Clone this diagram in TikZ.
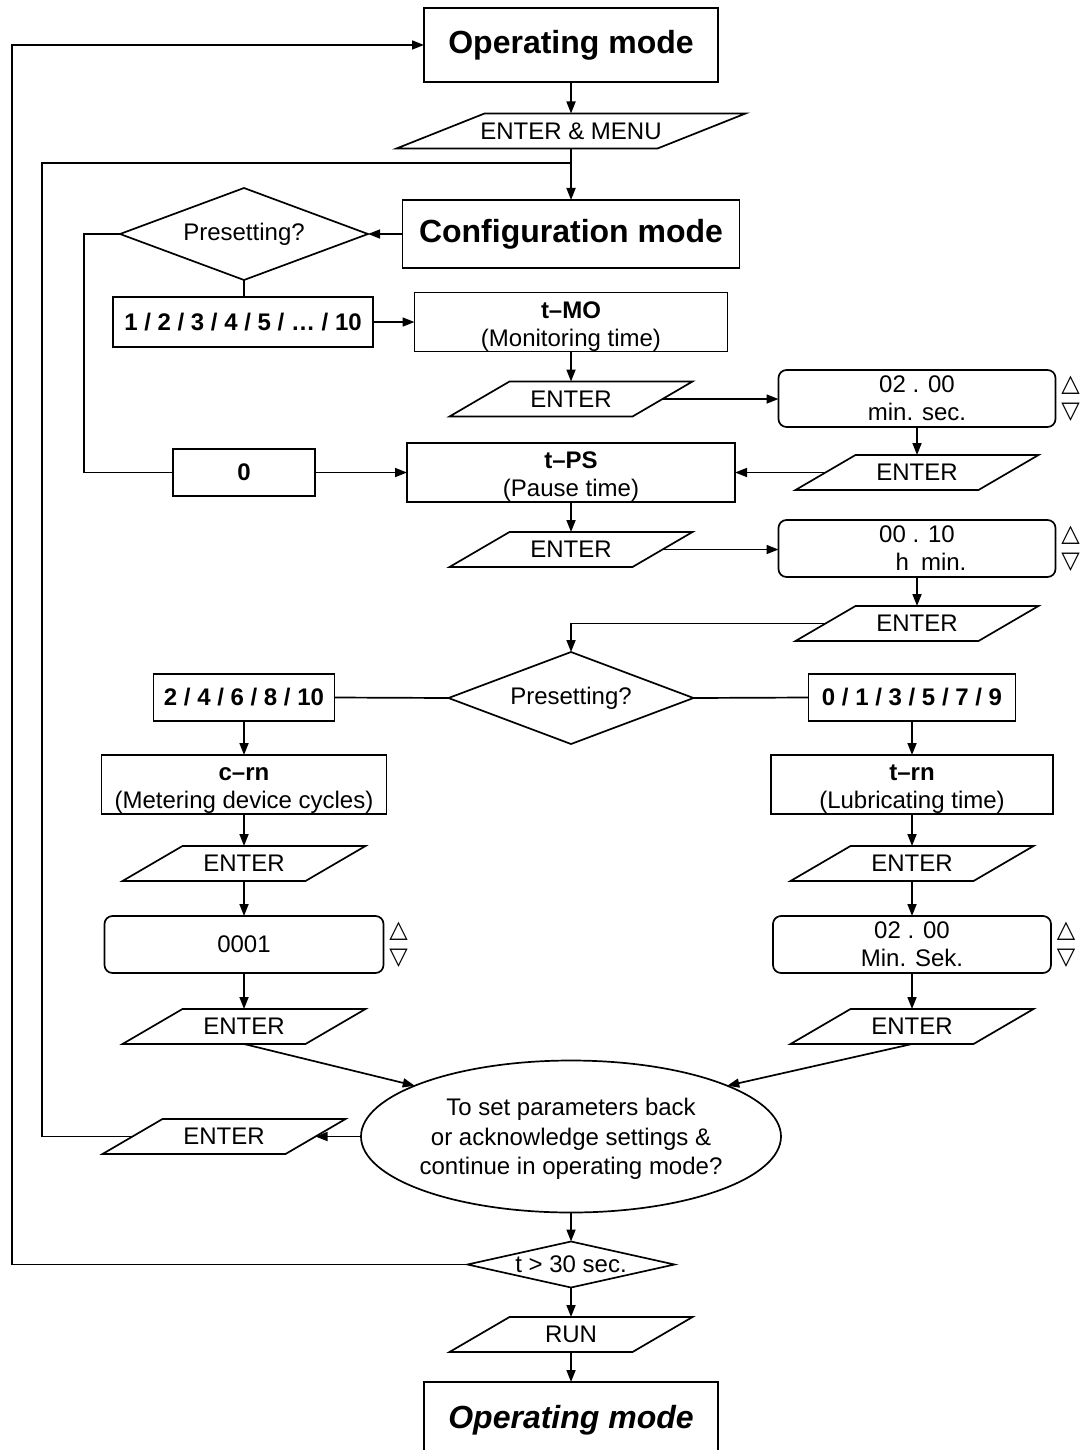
\documentclass[tikz,border=0pt]{standalone}
\usepackage{fontspec}
\setmainfont{Liberation Sans}
\newfontfamily\symfont{DejaVu Sans}
\usetikzlibrary{shapes.geometric,arrows.meta,calc}
\newcommand{\ParaBox}[5][30]{%
  \node[paratext] (#2) at (#3,#4) {#5};
  \draw[ln] ([xshift=-#1pt]#2.south west) -- ([xshift=-#1pt]#2.south east) -- ([xshift=#1pt]#2.north east) -- ([xshift=#1pt]#2.north west) -- cycle;}
\newcommand{\UpStrut}{\rule{0pt}{25pt}}
\begin{document}
\begin{tikzpicture}[x=1pt,y=-1pt,
  every node/.style={font=\fontsize{24}{28}\selectfont, inner sep=0pt, outer sep=0pt},
  ln/.style={line width=1.7pt, line join=miter},
  arr/.style={ln, -{Triangle[length=12pt,width=9pt]}},
  box/.style={draw, ln, rectangle, align=center},
  rbox/.style={draw, ln, rectangle, rounded corners=8pt, align=center},
  dia/.style={draw, ln, diamond},
  paratext/.style={rectangle, minimum width=183pt, minimum height=35pt},
  big/.style={font=\fontsize{32}{36}\selectfont\bfseries},
  bld/.style={font=\fontsize{24}{28}\selectfont\bfseries},
  tri/.style={font=\symfont\fontsize{24}{24}\selectfont}
]
\fill[white] (0,0) rectangle (1081,1450);
\useasboundingbox (0,0) rectangle (1081,1450);

% nodes
\node[box, big, minimum width=294pt, minimum height=74pt] (opTop) at (571,45) {Operating mode};
\node[paratext, minimum width=261pt] (em) at (571,131) {ENTER \& MENU};
\draw[ln] ([xshift=-44pt]em.south west) -- ([xshift=-44pt]em.south east) -- ([xshift=44pt]em.north east) -- ([xshift=44pt]em.north west) -- cycle;
\node[box, big, minimum width=337pt, minimum height=68pt] (cfg) at (571,234) {Configuration mode};
\node[dia, minimum width=248pt, minimum height=92pt, shape aspect=2.7] (pre1) at (244,234) {Presetting?};
\node[box, bld, minimum width=260pt, minimum height=50pt] (n1) at (243,322) {1 / 2 / 3 / 4 / 5 / … / 10};
\node[box, minimum width=313pt, minimum height=59pt] (tmo) at (571,322) {\UpStrut\textbf{t–MO}\\(Monitoring time)};
\ParaBox{e1}{571}{399}{ENTER}
\node[rbox, minimum width=277pt, minimum height=57pt] (r1) at (917,398.5) {02 . 00\\min. sec.};
\node[tri] (r1u) at ($(r1.east)+(15,-13)$) {△};
\node[tri] (r1d) at ($(r1.east)+(15,14)$) {▽};
\ParaBox{e2}{917}{472.5}{ENTER}
\node[box, bld, minimum width=142pt, minimum height=47pt] (z0) at (244,472.5) {0};
\node[box, minimum width=328pt, minimum height=59pt] (tps) at (571,472.5) {\UpStrut\textbf{t–PS}\\(Pause time)};
\ParaBox{e3}{571}{549.5}{ENTER}
\node[rbox, minimum width=277pt, minimum height=57pt] (r2) at (917,548.5) {00 . 10\\\hspace*{28pt}h\hspace{0.5em}min.};
\node[tri] (r2u) at ($(r2.east)+(15,-13)$) {△};
\node[tri] (r2d) at ($(r2.east)+(15,14)$) {▽};
\ParaBox{e4}{917}{623.5}{ENTER}
\node[dia, minimum width=245pt, minimum height=92pt, shape aspect=2.7] (pre2) at (571,698) {Presetting?};
\node[box, bld, minimum width=181pt, minimum height=47pt] (lb) at (244,697.5) {2 / 4 / 6 / 8 / 10};
\node[box, bld, minimum width=207pt, minimum height=47pt] (rb) at (912,697.5) {0 / 1 / 3 / 5 / 7 / 9};
\node[box, minimum width=285pt, minimum height=59pt] (crn) at (244,784.5) {\UpStrut\textbf{c–rn}\\(Metering device cycles)};
\node[box, minimum width=282pt, minimum height=59pt] (trn) at (912,784.5) {\UpStrut\textbf{t–rn}\\(Lubricating time)};
\ParaBox{e5}{244}{863.5}{ENTER}
\ParaBox{e7}{912}{863.5}{ENTER}
\node[rbox, minimum width=279pt, minimum height=57pt] (r3) at (244,944.5) {0001};
\node[tri] (r3u) at ($(r3.east)+(15,-13)$) {△};
\node[tri] (r3d) at ($(r3.east)+(15,14)$) {▽};
\node[rbox, minimum width=278pt, minimum height=57pt] (r4) at (912,944.5) {02 . 00\\Min. Sek.};
\node[tri] (r4u) at ($(r4.east)+(15,-13)$) {△};
\node[tri] (r4d) at ($(r4.east)+(15,14)$) {▽};
\ParaBox{e6}{244}{1026.5}{ENTER}
\ParaBox{e8}{912}{1026.5}{ENTER}
\node[draw, ln, ellipse, minimum width=420pt, minimum height=152pt, inner sep=-8pt, align=center,
  font=\fontsize{24}{29.5}\selectfont] (ell) at (571,1136.5)
  {\rule{0pt}{22pt}To set parameters back\\or acknowledge settings \&\\continue in operating mode?};
\ParaBox{entE}{224}{1136.5}{ENTER}
\node[dia, minimum width=207pt, minimum height=46pt, shape aspect=4.5] (t30) at (571,1264.5) {t > 30 sec.};
\ParaBox{run}{571}{1334.5}{RUN}
\node[box, font=\fontsize{32}{36}\selectfont\bfseries\itshape, minimum width=294pt, minimum height=76pt] (opBot) at (571,1420) {Operating mode};

% connectors
\draw[arr] (t30.west) -- (12,1264.5) |- (opTop.west);
\draw[arr] (opTop.south) -- (em.north);
\draw[arr] (em.south) -- (cfg.north);
\draw[ln] (entE.west) -- (42,1136.5) -- (42,163) -- (571,163);
\draw[arr] (cfg.west) -- (pre1.east);
\draw[ln] (pre1.west) -- (84,234) |- (z0.west);
\draw[ln] (pre1.south) -- (pre1.south |- n1.north);
\draw[arr] (n1.east) -- (tmo.west);
\draw[arr] (z0.east) -- (tps.west);
\draw[arr] (tmo.south) -- (e1.north);
\draw[arr] (e1.east) -- (e1.east -| r1.west);
\draw[arr] (r1.south) -- (e2.north);
\draw[arr] (e2.west) -- (e2.west -| tps.east);
\draw[arr] (tps.south) -- (e3.north);
\draw[arr] (e3.east) -- (e3.east -| r2.west);
\draw[arr] (r2.south) -- (e4.north);
\draw[arr] (e4.west) -| (pre2.north);
\draw[ln] (pre2.west) -- (lb.east);
\draw[ln] (pre2.east) -- (rb.west);
\draw[arr] (lb.south) -- (crn.north);
\draw[arr] (rb.south) -- (trn.north);
\draw[arr] (crn.south) -- (e5.north);
\draw[arr] (trn.south) -- (e7.north);
\draw[arr] (e5.south) -- (r3.north);
\draw[arr] (e7.south) -- (r4.north);
\draw[arr] (r3.south) -- (e6.north);
\draw[arr] (r4.south) -- (e8.north);
\draw[arr] (e6.south) -- (ell.162);
\draw[arr] (e8.south) -- (ell.18);
\draw[arr] (ell.west) -- (ell.west -| entE.east);
\draw[arr] (ell.south) -- (t30.north);
\draw[arr] (t30.south) -- (run.north);
\draw[arr] (run.south) -- (opBot.north);
\end{tikzpicture}
\end{document}
